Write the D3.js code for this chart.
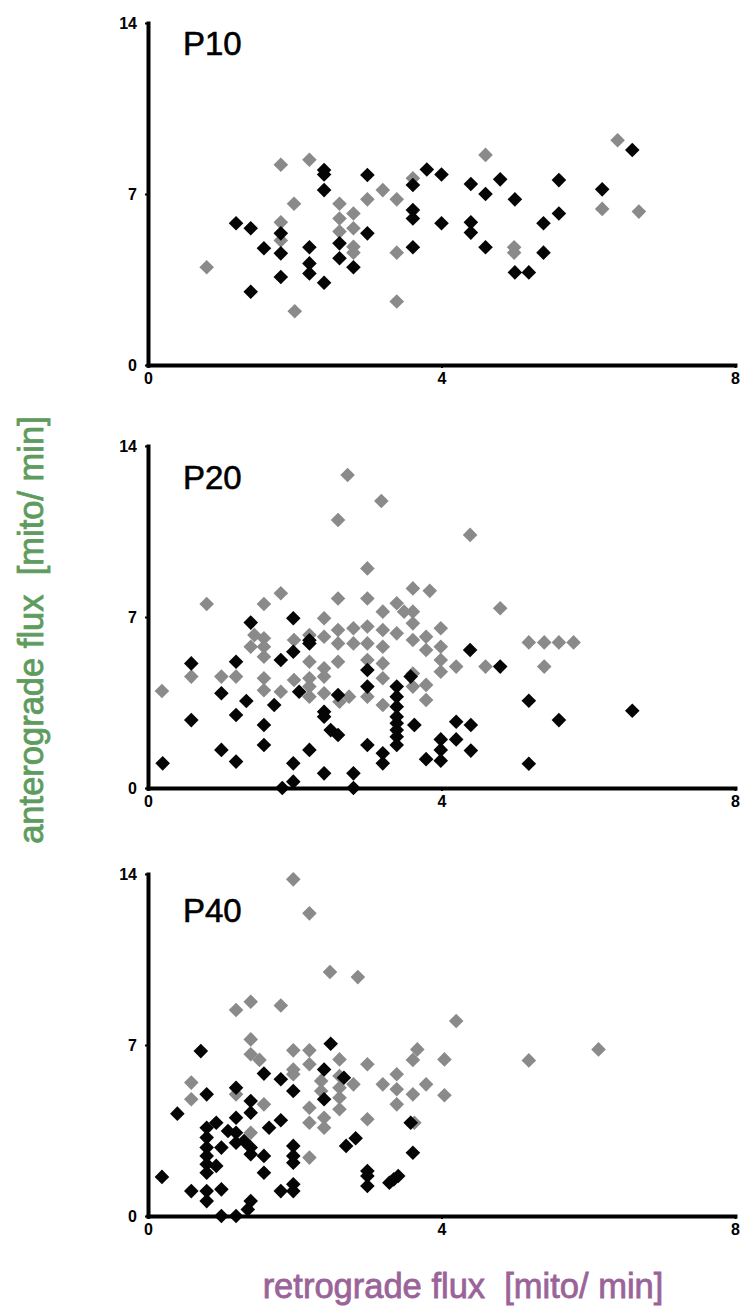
<!DOCTYPE html>
<html>
<head>
<meta charset="utf-8">
<script src="https://cdn.jsdelivr.net/npm/d3@7"></script>
<style>
  html, body { margin: 0; padding: 0; background: #fff; }
  svg { display: block; }
  .tick text { font-family: "Liberation Sans", Arial, sans-serif; font-weight: bold; font-size: 16px; fill: #000; }
</style>
</head>
<body>
<svg id="chart" width="741" height="1314"></svg>
<script>
// Flux measurements [retrograde, anterograde] in mito/min, per age group
const p10Gray = [[0.80,4.0],[1.81,8.2],[2.20,8.4],[1.99,6.6],[1.81,5.84],[1.81,5.1],[2.0,2.2],[2.61,6.6],[2.61,6.0],[2.61,5.46],[2.80,6.2],[2.80,5.6],[2.80,4.84],[2.80,4.6],[2.99,6.78],[3.20,7.16],[3.39,6.78],[3.39,4.6],[3.39,2.6],[3.61,7.64],[4.60,8.6],[6.40,9.2],[6.19,6.39],[6.69,6.28],[4.99,4.82],[4.99,4.6]];
const p10Black = [[1.20,5.8],[1.40,5.6],[1.40,3.0],[1.58,4.78],[1.81,5.39],[1.81,4.57],[1.81,3.6],[2.20,4.82],[2.20,4.16],[2.20,3.75],[2.40,7.98],[2.40,7.8],[2.40,7.16],[2.40,3.37],[2.61,4.98],[2.61,4.37],[2.80,4.0],[2.99,7.78],[2.99,5.39],[3.61,7.37],[3.61,6.34],[3.61,6.0],[3.61,4.82],[3.80,8.0],[4.00,7.8],[4.00,5.8],[4.40,7.41],[4.60,7.0],[4.80,7.6],[5.00,6.78],[4.40,5.84],[4.40,5.42],[4.60,4.82],[5.00,3.79],[5.19,3.79],[5.39,4.6],[5.39,5.8],[5.60,6.2],[5.60,7.57],[6.19,7.19],[6.60,8.8]];

const p20Gray = [[0.19,3.97],[0.59,4.56],[0.80,7.53],[1.00,4.56],[1.20,4.56],[1.40,5.78],[1.45,6.26],[1.58,6.13],[1.58,5.78],[1.58,5.37],[1.58,4.49],[1.58,4.0],[1.58,7.53],[1.81,7.97],[1.81,3.94],[1.99,6.06],[1.99,4.42],[2.20,6.26],[2.20,5.17],[2.20,4.49],[2.20,4.15],[2.20,3.74],[2.40,6.95],[2.40,6.19],[2.40,4.9],[2.40,4.56],[2.40,3.88],[2.59,10.97],[2.59,7.76],[2.59,6.47],[2.59,5.92],[2.59,5.17],[2.72,12.81],[2.80,6.54],[2.80,5.92],[2.74,3.74],[2.61,3.53],[2.99,8.99],[2.99,7.76],[2.99,6.61],[2.99,5.92],[2.99,5.24],[2.99,3.74],[3.18,11.75],[3.20,7.22],[3.20,6.47],[3.20,5.78],[3.20,5.10],[3.20,4.49],[3.20,3.40],[3.39,7.56],[3.39,6.33],[3.49,7.22],[3.61,7.22],[3.61,8.17],[3.61,6.74],[3.61,6.06],[3.61,4.69],[3.61,4.15],[3.84,8.07],[3.79,6.19],[3.79,5.65],[3.79,4.22],[3.79,3.6],[3.63,2.58],[4.39,10.36],[4.80,7.36],[3.99,6.54],[3.99,5.78],[3.99,5.24],[3.99,4.76],[4.20,4.97],[4.60,4.97],[5.19,5.96],[5.40,5.96],[5.60,5.96],[5.80,5.96],[5.40,4.97]];
const p20Black = [[0.20,1.01],[0.59,5.10],[0.59,2.78],[1.00,3.88],[1.00,1.56],[1.20,5.17],[1.20,2.99],[1.20,1.08],[1.34,3.56],[1.40,6.77],[1.58,2.58],[1.58,1.76],[1.72,3.40],[1.81,5.24],[1.98,6.95],[1.98,5.58],[2.20,5.92],[2.20,6.05],[2.06,3.94],[2.20,1.56],[1.98,1.01],[1.98,0.26],[1.83,0],[2.40,3.12],[2.40,2.92],[2.49,2.37],[2.59,2.17],[2.40,0.60],[2.59,3.81],[2.80,0.60],[2.80,0],[2.99,4.83],[2.99,4.15],[2.99,1.76],[3.20,1.42],[3.20,1.01],[3.39,4.15],[3.39,3.74],[3.39,3.33],[3.39,2.92],[3.39,2.65],[3.39,2.37],[3.39,2.10],[3.39,1.76],[3.58,4.56],[3.63,2.58],[3.79,1.18],[4.39,5.65],[4.80,4.97],[5.19,3.57],[5.60,2.78],[6.60,3.16],[5.19,0.99],[4.20,2.71],[4.40,2.58],[4.20,1.99],[3.99,1.99],[3.99,1.56],[3.99,1.12],[4.40,1.53]];

const p40Gray = [[1.98,13.78],[2.20,12.39],[2.48,9.99],[2.86,9.78],[1.20,8.43],[1.40,8.77],[1.81,8.62],[0.59,5.46],[0.59,4.78],[1.20,4.98],[1.40,7.23],[1.40,6.62],[1.52,6.39],[1.58,4.57],[1.40,3.41],[1.98,6.78],[1.98,6.00],[1.98,5.8],[2.20,6.78],[2.20,6.21],[2.20,4.43],[2.20,3.82],[2.20,2.39],[2.36,5.53],[2.36,5.12],[2.40,4.02],[2.40,3.61],[2.61,6.41],[2.61,5.73],[2.61,5.25],[2.61,4.84],[2.61,4.37],[2.80,5.39],[2.99,6.21],[2.99,3.96],[3.20,5.39],[3.39,5.80],[3.39,5.19],[3.39,4.57],[3.61,4.98],[3.61,6.39],[3.67,6.82],[3.79,5.39],[3.63,3.82],[4.20,7.98],[4.04,6.41],[4.04,4.94],[5.19,6.37],[6.14,6.82]];
const p40Black = [[0.19,1.60],[0.40,4.19],[0.72,6.75],[0.80,4.98],[0.59,1.02],[0.80,1.02],[0.80,0.61],[0.80,3.61],[0.80,3.21],[0.80,2.80],[0.80,2.46],[0.80,2.12],[0.80,1.77],[0.93,3.82],[0.93,2.05],[1.00,2.80],[1.00,1.09],[1.00,0],[1.20,0],[1.09,3.48],[1.20,5.25],[1.20,4.02],[1.20,3.41],[1.20,3.00],[1.31,3.07],[1.40,2.80],[1.40,2.53],[1.40,4.71],[1.40,4.23],[1.40,0.61],[1.36,0.27],[1.58,5.83],[1.58,2.46],[1.58,1.77],[1.65,3.61],[1.81,3.92],[1.81,5.60],[1.81,1.02],[1.98,5.12],[1.98,2.87],[1.98,2.46],[1.98,2.18],[1.98,1.30],[1.98,1.02],[2.40,6.00],[2.40,4.78],[2.49,7.05],[2.67,5.66],[2.70,2.87],[2.83,3.18],[2.99,1.84],[2.99,1.64],[2.99,1.23],[3.29,1.36],[3.35,1.5],[3.41,1.64],[3.58,3.82],[3.61,2.59]];

const panelNames = ["P10", "P20", "P40"];
const xTicks = [0, 4, 8];
const yTicks = [0, 7, 14];
const xLabel = "retrograde flux  [mito/ min]";
const yLabel = "anterograde flux  [mito/ min]";

const panels = [
  { name: panelNames[0], gray: p10Gray, black: p10Black },
  { name: panelNames[1], gray: p20Gray, black: p20Black },
  { name: panelNames[2], gray: p40Gray, black: p40Black }
];

const svg = d3.select("#chart");

// layout of the three stacked panels
const left = 148, right = 735, plotH = 342;
const panelTops = [23, 446, 874];
const nameOffsets = [32, 43, 48];

const x = d3.scaleLinear().domain([0, 8]).range([left, right]);
const diamond = "M0,-7.3L7.3,0L0,7.3L-7.3,0Z";

panels.forEach((p, i) => {
  const top = panelTops[i];
  const y = d3.scaleLinear().domain([0, 14]).range([top + plotH, top]);
  const g = svg.append("g");

  // scatter: grey group underneath, black group on top
  [["gray", "#8a8a8a"], ["black", "#050505"]].forEach(([key, col]) => {
    g.append("g").selectAll("path")
      .data(p[key])
      .join("path")
      .attr("d", diamond)
      .attr("transform", d => `translate(${x(d[0])},${y(d[1])})`)
      .attr("fill", col);
  });

  // axes
  const yAxis = g.append("g")
    .attr("transform", `translate(${left},0)`)
    .call(d3.axisLeft(y).tickValues(yTicks).tickSize(3).tickSizeOuter(0).tickPadding(8));
  const xAxis = g.append("g")
    .attr("transform", `translate(0,${top + plotH})`)
    .call(d3.axisBottom(x).tickValues(xTicks).tickSize(3).tickSizeOuter(0).tickPadding(5));
  [yAxis, xAxis].forEach(ax => {
    ax.select(".domain").attr("stroke", "#000").attr("stroke-width", 4).attr("stroke-linecap", "square");
    ax.selectAll(".tick line").attr("stroke", "#000").attr("stroke-width", 2);
  });

  // panel name
  g.append("text")
    .attr("x", 183)
    .attr("y", top + nameOffsets[i])
    .attr("font-family", "'Liberation Sans', Arial, sans-serif")
    .attr("font-size", 33)
    .attr("fill", "#000")
    .attr("stroke", "#000")
    .attr("stroke-width", 0.6)
    .text(p.name);
});

// shared axis titles
svg.append("text")
  .attr("transform", "translate(43,630) rotate(-90)")
  .attr("text-anchor", "middle")
  .attr("font-family", "'Liberation Sans', Arial, sans-serif")
  .attr("font-size", 34.5)
  .attr("fill", "#5e9c5e")
  .attr("stroke", "#5e9c5e")
  .attr("stroke-width", 0.8)
  .style("white-space", "pre")
  .text(yLabel);

svg.append("text")
  .attr("x", 463)
  .attr("y", 1298)
  .attr("text-anchor", "middle")
  .attr("font-family", "'Liberation Sans', Arial, sans-serif")
  .attr("font-size", 34.5)
  .attr("fill", "#9a6499")
  .attr("stroke", "#9a6499")
  .attr("stroke-width", 0.8)
  .style("white-space", "pre")
  .text(xLabel);
</script>
</body>
</html>
